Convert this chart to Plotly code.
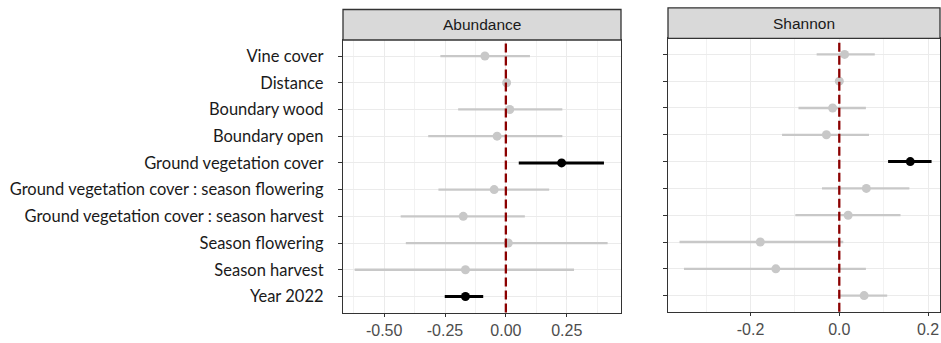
import plotly.graph_objects as go

# Model terms, top to bottom
terms = [
    "Vine cover",
    "Distance",
    "Boundary wood",
    "Boundary open",
    "Ground vegetation cover",
    "Ground vegetation cover : season flowering",
    "Ground vegetation cover : season harvest",
    "Season flowering",
    "Season harvest",
    "Year 2022",
]

# Abundance model: estimates with lower / upper confidence limits
abund_est = [-0.086, 0.003, 0.016, -0.036, 0.229, -0.048, -0.175, 0.010, -0.166, -0.166]
abund_lo = [-0.269, -0.004, -0.196, -0.319, 0.053, -0.277, -0.432, -0.411, -0.621, -0.251]
abund_hi = [0.099, 0.010, 0.232, 0.232, 0.403, 0.178, 0.078, 0.418, 0.280, -0.093]

# Shannon diversity model
shan_est = [0.012, 0.000, -0.015, -0.029, 0.160, 0.061, 0.020, -0.178, -0.143, 0.056]
shan_lo = [-0.051, -0.003, -0.092, -0.129, 0.110, -0.039, -0.099, -0.360, -0.350, -0.002]
shan_hi = [0.080, 0.003, 0.060, 0.067, 0.208, 0.158, 0.138, 0.009, 0.060, 0.108]

# Axis ticks (major labels and minor grid positions)
abund_ticks = [-0.50, -0.25, 0.00, 0.25]
abund_ticklabels = ["-0.50", "-0.25", "0.00", "0.25"]
abund_minor = [-0.625, -0.375, -0.125, 0.125, 0.375]
shan_ticks = [-0.2, 0.0, 0.2]
shan_ticklabels = ["-0.2", "0.0", "0.2"]
shan_minor = [-0.3, -0.1, 0.1]

panel_titles = ["Abundance", "Shannon"]

W, H = 941, 343
GREY = "#C8C8C8"
BLACK = "#000000"


def px_x(p):
    return p / W


def px_y(p):
    return 1 - p / H


fig = go.Figure()

panels = [
    dict(est=abund_est, lo=abund_lo, hi=abund_hi, xa="x", ya="y",
         dom_x=(343, 621), dom_y=(40, 312.5), rng=[-0.669, 0.473],
         ticks=abund_ticks, labels=abund_ticklabels, minor=abund_minor),
    dict(est=shan_est, lo=shan_lo, hi=shan_hi, xa="x2", ya="y2",
         dom_x=(668, 940), dom_y=(38.3, 311.7), rng=[-0.386, 0.227],
         ticks=shan_ticks, labels=shan_ticklabels, minor=shan_minor),
]

for pi, p in enumerate(panels):
    for sig in (False, True):
        idx = [i for i in range(len(terms))
               if ((p["lo"][i] > 0) or (p["hi"][i] < 0)) == sig]
        col = BLACK if sig else GREY
        fig.add_trace(go.Scatter(
            x=[p["est"][i] for i in idx],
            y=[terms[i] for i in idx],
            mode="markers",
            marker=dict(color=col, size=9, line=dict(width=0)),
            error_x=dict(
                type="data", symmetric=False,
                array=[p["hi"][i] - p["est"][i] for i in idx],
                arrayminus=[p["est"][i] - p["lo"][i] for i in idx],
                color=col, thickness=3 if sig else 2.3, width=0,
            ),
            xaxis=p["xa"], yaxis=p["ya"], showlegend=False,
            hoverinfo="skip",
        ))

layout = dict(
    width=W, height=H,
    margin=dict(l=0, r=0, t=0, b=0),
    paper_bgcolor="white", plot_bgcolor="white",
    showlegend=False,
)

shapes = []
annotations = []
for pi, p in enumerate(panels):
    sfx = "" if pi == 0 else str(pi + 1)
    x0, x1 = p["dom_x"]
    ytop, ybot = p["dom_y"]
    layout["xaxis" + sfx] = dict(
        domain=[px_x(x0), px_x(x1)], range=p["rng"], anchor="y" + sfx,
        tickmode="array", tickvals=p["ticks"], ticktext=p["labels"],
        showgrid=True, gridcolor="#EBEBEB", gridwidth=1.2,
        minor=dict(showgrid=True, gridcolor="#F2F2F2", gridwidth=1,
                   tickvals=p["minor"]),
        zeroline=False,
        showline=True, mirror=True, linecolor="#333333", linewidth=1.3,
        ticks="outside", ticklen=3, tickcolor="#333333",
        tickfont=dict(family="Liberation Sans, Arial", size=16, color="#4D4D4D"),
        automargin=False, fixedrange=True,
    )
    layout["yaxis" + sfx] = dict(
        domain=[px_y(ybot), px_y(ytop)], anchor="x" + sfx,
        type="category", categoryorder="array", categoryarray=terms,
        range=[len(terms) - 1 + 0.6, -0.6],
        showgrid=True, gridcolor="#EBEBEB", gridwidth=1.2,
        zeroline=False,
        showline=True, mirror=True, linecolor="#333333", linewidth=1.3,
        ticks="outside", ticklen=4, tickcolor="#333333",
        showticklabels=(pi == 0), ticklabelstandoff=11,
        tickfont=dict(family="Lato, Carlito, Calibri, sans-serif", size=16.5,
                      color="#1A1A1A"),
        automargin=False, fixedrange=True,
    )
    # reference line at zero
    shapes.append(dict(
        type="line", xref="x" + sfx, yref="y" + sfx + " domain",
        x0=0, x1=0, y0=0, y1=1,
        line=dict(color="#8B0000", width=2.3, dash="9px,4px"),
    ))
    # facet strip
    strip_top = ytop - 30.5
    shapes.append(dict(
        type="rect", xref="paper", yref="paper",
        x0=px_x(x0), x1=px_x(x1), y0=px_y(ytop), y1=px_y(strip_top),
        fillcolor="#D9D9D9", line=dict(color="#333333", width=1.3),
        layer="above",
    ))
    annotations.append(dict(
        text=panel_titles[pi], xref="paper", yref="paper",
        x=px_x((x0 + x1) / 2), y=px_y((ytop + strip_top) / 2),
        xanchor="center", yanchor="middle", showarrow=False,
        font=dict(family="Liberation Sans, Arial", size=15.5, color="#1A1A1A"),
    ))

layout["shapes"] = shapes
layout["annotations"] = annotations
fig.update_layout(**layout)

fig.write_html("out.html")
